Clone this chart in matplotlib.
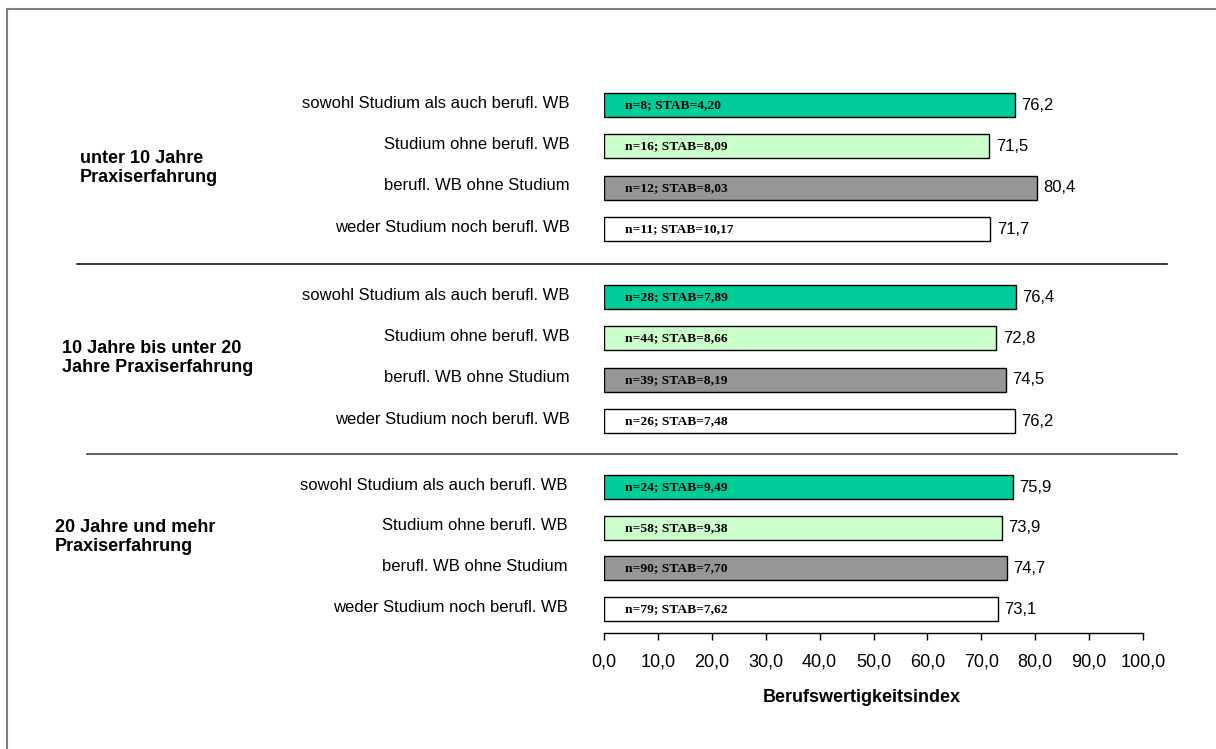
import matplotlib
matplotlib.use("Agg")
import matplotlib.pyplot as plt
from matplotlib.lines import Line2D

plt.rcParams['font.family'] = ['Liberation Sans', 'DejaVu Sans']

# ---- data ----
groups = ["unter 10 Jahre\nPraxiserfahrung",
          "10 Jahre bis unter 20\nJahre Praxiserfahrung",
          "20 Jahre und mehr\nPraxiserfahrung"]
categories = ["sowohl Studium als auch berufl. WB",
              "Studium ohne berufl. WB",
              "berufl. WB ohne Studium",
              "weder Studium noch berufl. WB"]
values_u10 = [76.2, 71.5, 80.4, 71.7]
values_10_20 = [76.4, 72.8, 74.5, 76.2]
values_20plus = [75.9, 73.9, 74.7, 73.1]
n_u10 = [8, 16, 12, 11]
n_10_20 = [28, 44, 39, 26]
n_20plus = [24, 58, 90, 79]
stab_u10 = [4.20, 8.09, 8.03, 10.17]
stab_10_20 = [7.89, 8.66, 8.19, 7.48]
stab_20plus = [9.49, 9.38, 7.70, 7.62]
xticks = [0, 10, 20, 30, 40, 50, 60, 70, 80, 90, 100]
xlabel = "Berufswertigkeitsindex"
colors = ["#00CC99", "#CCFFCC", "#969696", "#FFFFFF"]

W, H = 1216, 749
fig = plt.figure(figsize=(W / 100, H / 100), dpi=100)


def fx(px):
    return px / W


def fy(py):
    return 1 - py / H


def de(v, d=1):
    return f"{v:.{d}f}".replace(".", ",")


# layout (pixels)
x0, x100 = 604, 1143
panels = [
    dict(vals=values_u10, ns=n_u10, stabs=stab_u10, c0=105, c3=229, lab_r=570,
         grp=groups[0], gx=80, gy=168),
    dict(vals=values_10_20, ns=n_10_20, stabs=stab_10_20, c0=297, c3=421, lab_r=570,
         grp=groups[1], gx=62, gy=358),
    dict(vals=values_20plus, ns=n_20plus, stabs=stab_20plus, c0=487, c3=609, lab_r=568,
         grp=groups[2], gx=55, gy=537),
]

for i, p in enumerate(panels):
    s = (p['c3'] - p['c0']) / 3
    top = p['c0'] - s / 2
    bot = p['c3'] + s / 2
    ax = fig.add_axes([fx(x0), fy(bot), (x100 - x0) / W, (bot - top) / H])
    ax.set_xlim(0, 100)
    ax.set_ylim(3.5, -0.5)
    ypos = list(range(len(categories)))
    bh = 24 / s
    ax.barh(ypos, p['vals'], height=bh, color=colors, edgecolor='black', linewidth=1.0)
    for y, v, n, st in zip(ypos, p['vals'], p['ns'], p['stabs']):
        ax.annotate(de(v), (v, y), xytext=(4.5, 0), textcoords='offset points',
                    ha='left', va='center', fontsize=12)
        ax.annotate(f"n={n}; STAB={de(st, 2)}", (0, y), xytext=(15, 0),
                    textcoords='offset points', ha='left', va='center',
                    fontsize=9.7, fontweight='bold', family='Liberation Serif')
    ax.set_yticks([])
    for sp in ['top', 'right', 'left']:
        ax.spines[sp].set_visible(False)
    if i < 2:
        ax.spines['bottom'].set_visible(False)
        ax.set_xticks([])
    else:
        ax.spines['bottom'].set_position(('outward', 2.7))
        ax.spines['bottom'].set_linewidth(1.0)
        ax.set_xticks(xticks)
        ax.set_xticklabels([de(t) for t in xticks], fontsize=13)
        ax.tick_params(axis='x', direction='out', length=5, width=1, pad=9.5)
    ax.patch.set_alpha(0)
    # category labels
    for k, cat in enumerate(categories):
        fig.text(fx(p['lab_r']), fy(p['c0'] + k * s - 2), cat, ha='right', va='center',
                 fontsize=12)
    # group labels
    fig.text(fx(p['gx']), fy(p['gy']), p['grp'], ha='left', va='center', fontsize=13,
             fontweight='bold', linespacing=1.15)

fig.text(fx(862), fy(697), xlabel, ha='center', va='center', fontsize=13, fontweight='bold')

# separators
fig.add_artist(Line2D([fx(77), fx(1167)], [fy(264), fy(264)], color='black', lw=1.1))
fig.add_artist(Line2D([fx(87), fx(1177)], [fy(453.5), fy(453.5)], color='#555555', lw=1.3))
# outer border (left and top)
fig.add_artist(Line2D([fx(7), fx(7)], [fy(749), fy(8.5)], color='#808080', lw=1.5))
fig.add_artist(Line2D([fx(7), fx(1216)], [fy(8.5), fy(8.5)], color='#808080', lw=1.5))

fig.savefig("out.png", dpi=100)
